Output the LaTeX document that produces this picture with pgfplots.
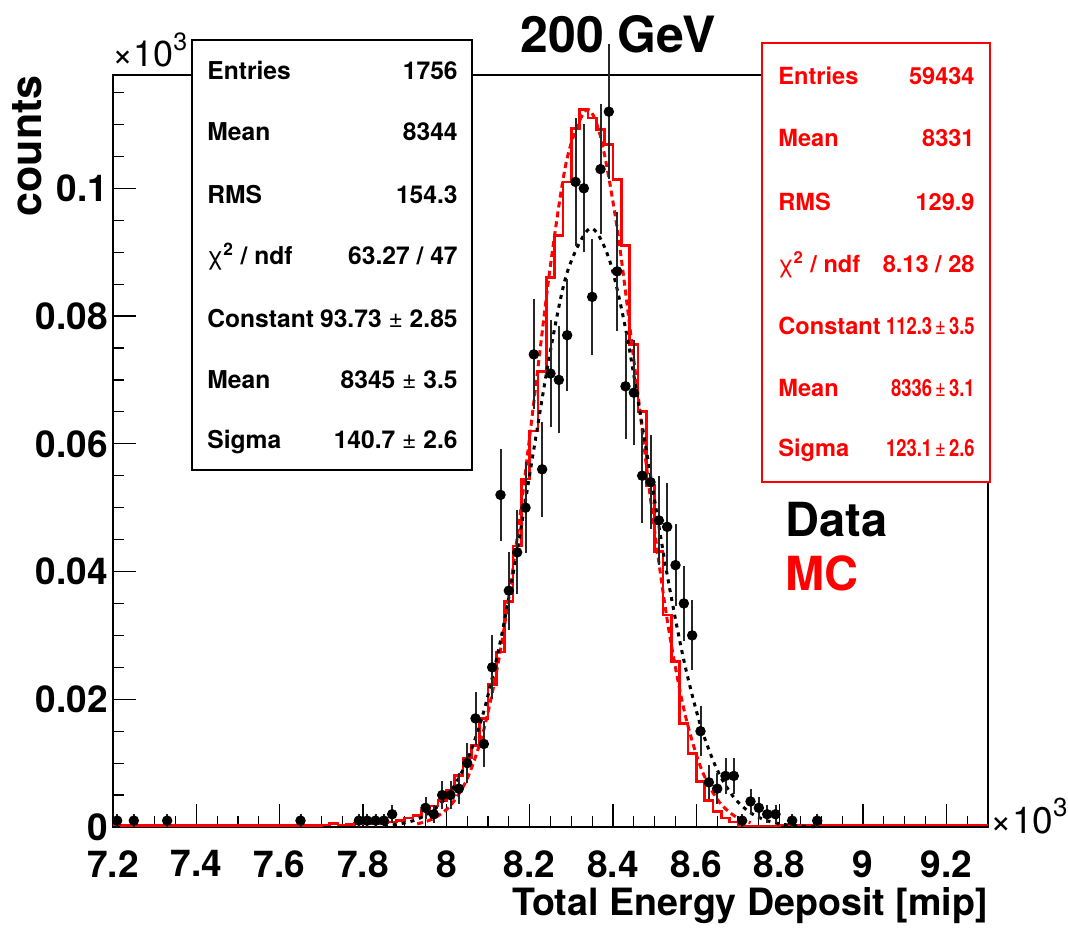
\documentclass[border=0pt]{standalone}
\usepackage{fontspec}
\setmainfont{TeX Gyre Heros}
\usepackage{pgfplots}
\pgfplotsset{compat=1.18}
\definecolor{rootred}{RGB}{255,0,0}
\newcommand{\cv}[1]{\scalebox{0.78}[1]{#1}}
\begin{document}
\begin{tikzpicture}[x=1pt,y=1pt]
\path[use as bounding box] (-56.5,-50.5) rectangle (477.5,413.5);
\begin{axis}[at={(0,0)}, anchor=south west, scale only axis,
  width=437.5pt, height=376pt,
  xmin=7.2, xmax=9.3, ymin=0, ymax=117.74,
  clip=false,
  axis line style={line width=1.4pt},
  tick pos=left, tick align=inside,
  major tick length=11.5pt, minor tick length=5.5pt,
  tick style={black, line width=0.6pt},
  xtick={7.2,7.4,7.6,7.8,8,8.2,8.4,8.6,8.8,9,9.2},
  xticklabels={7.2,7.4,7.6,7.8,8,8.2,8.4,8.6,8.8,9,9.2},
  minor xtick={7.25,7.3,7.35,7.45,7.5,7.55,7.65,7.7,7.75,7.85,7.9,7.95,8.05,8.1,8.15,8.25,8.3,8.35,8.45,8.5,8.55,8.65,8.7,8.75,8.85,8.9,8.95,9.05,9.1,9.15,9.25},
  ytick={0,20,40,60,80,100},
  yticklabels={0,0.02,0.04,0.06,0.08,0.1},
  minor ytick={5,10,15,25,30,35,45,50,55,65,70,75,85,90,95,105,110,115},
  /pgf/number format/assume math mode=true,
  xticklabel style={font=\fontsize{18.5}{18.5}\selectfont\bfseries, inner ysep=0pt, yshift=-11.5pt},
  yticklabel style={font=\fontsize{18.5}{18.5}\selectfont\bfseries, inner ysep=0pt, xshift=1pt},
]
% MC histogram (left bin edges, scaled counts)
\addplot[rootred, line width=1.4pt, const plot mark left] coordinates {
(7.20,0.3)(7.22,0.2)(7.24,0.2)(7.26,0.2)(7.28,0.2)(7.30,0.2)(7.32,0.2)(7.34,0.2)(7.36,0.2)(7.38,0.2)
(7.40,0.2)(7.42,0.2)(7.44,0.2)(7.46,0.2)(7.48,0.2)(7.50,0.2)(7.52,0.2)(7.54,0.2)(7.56,0.2)(7.58,0.2)
(7.60,0.2)(7.62,0.2)(7.64,0.2)(7.66,0.2)(7.68,0.2)(7.70,0.3)(7.72,0.5)(7.74,0.3)(7.76,0.4)(7.78,0.5)
(7.80,0.5)(7.82,0.6)(7.84,0.7)(7.86,0.8)(7.88,1.0)(7.90,1.4)(7.92,1.8)(7.94,2.6)(7.96,3.3)(7.98,4.2)
(8.00,5.8)(8.02,8.1)(8.04,10.8)(8.06,12.8)(8.08,17.0)(8.10,22.3)(8.12,27.4)(8.14,35.3)(8.16,44.0)(8.18,54.5)
(8.20,62.0)(8.22,71.3)(8.24,86.0)(8.26,92.6)(8.28,101.0)(8.30,109.4)(8.32,112.4)(8.34,111.0)(8.36,109.2)(8.38,106.8)
(8.40,101.4)(8.42,91.0)(8.44,75.5)(8.46,65.0)(8.48,53.5)(8.50,43.1)(8.52,33.2)(8.54,25.9)(8.56,16.2)(8.58,11.5)
(8.60,7.1)(8.62,4.2)(8.64,2.4)(8.66,1.4)(8.68,0.8)(8.70,0.15)(8.72,0.15)(8.74,0.15)(8.76,0.15)(8.78,0.15)
(8.80,0.3)(8.82,0.3)(8.84,0.3)(8.86,0.3)(8.88,0.3)(8.90,0.3)(8.92,0.3)(8.94,0.3)(8.96,0.3)(8.98,0.3)
(9.00,0.3)(9.02,0.3)(9.04,0.3)(9.06,0.3)(9.08,0.3)(9.10,0.3)(9.12,0.3)(9.14,0.3)(9.16,0.3)(9.18,0.3)
(9.20,0.3)(9.22,0.3)(9.24,0.3)(9.26,0.3)(9.28,0.3)(9.30,0.3)
};
% MC Gaussian fit (tabulated)
\addplot[rootred, line width=1.5pt, dash pattern=on 3pt off 2pt, smooth] coordinates {
(7.93,0.488)(7.97,1.352)(8.01,3.370)(8.05,7.556)(8.09,15.248)(8.13,27.688)(8.17,45.237)(8.21,66.510)
(8.25,87.981)(8.29,104.73)(8.336,112.3)(8.37,108.10)(8.41,93.737)(8.45,73.140)(8.49,51.348)(8.53,32.440)
(8.57,18.440)(8.61,9.435)(8.65,4.341)(8.69,1.798)(8.73,0.670)
};
% Data Gaussian fit (tabulated)
\addplot[black, line width=1.5pt, dash pattern=on 2pt off 2.5pt, smooth] coordinates {
(7.85,0.192)(7.89,0.503)(7.93,1.210)(7.97,2.688)(8.01,5.507)(8.05,10.406)(8.09,18.139)(8.13,29.161)
(8.17,43.244)(8.21,59.155)(8.25,74.628)(8.29,86.836)(8.345,93.73)(8.39,89.057)(8.43,78.096)(8.47,62.9)
(8.49,55.113)(8.53,39.489)(8.57,26.096)(8.61,15.905)(8.65,8.943)(8.69,4.637)(8.73,2.219)(8.77,0.979)
(8.81,0.398)(8.85,0.150)(8.89,0.052)
};
% Data points with sqrt(N) errors
\addplot[black, only marks, mark=*, mark size=2.4pt,
  error bars/.cd, y dir=both, y explicit, error mark=none,
  error bar style={black!85, line width=1pt}]
  table[x=x, y=y, y error=e] {
x y e
7.21 1 1
7.25 1 1
7.33 1 1
7.65 1 1
7.79 1 1
7.81 1 1
7.83 1 1
7.85 1 1
7.87 2 1.414
7.95 3 1.732
7.97 2 1.414
7.99 5 2.236
8.01 5 2.236
8.03 6 2.449
8.05 10 3.162
8.07 17 4.123
8.09 13 3.606
8.11 25 5
8.13 52 7.211
8.15 37 6.083
8.17 43 6.557
8.19 50 7.071
8.21 74 8.602
8.23 56 7.483
8.25 71 8.426
8.27 70 8.367
8.29 77 8.775
8.31 101 10.05
8.33 100 10
8.35 83 9.110
8.37 103 10.149
8.39 112 10.583
8.41 87 9.327
8.43 69 8.307
8.45 68 8.246
8.47 55 7.416
8.49 54 7.348
8.51 48 6.928
8.53 47 6.856
8.55 41 6.403
8.57 35 5.916
8.59 30 5.477
8.61 15 3.873
8.63 7 2.646
8.65 6 2.449
8.67 8 2.828
8.69 8 2.828
8.71 1 1
8.73 4 2
8.75 3 1.732
8.77 2 1.414
8.79 2 1.414
8.83 1 1
8.89 1 1
};
\end{axis}
% Titles and axis labels
\node[anchor=base, inner sep=0, font=\fontsize{25}{25}\selectfont\bfseries] at (252.5,387) {200 GeV};
\node[anchor=base west, inner sep=0, font=\fontsize{18}{18}\selectfont] at (-0.5,380) {×10\raisebox{0.45em}{\fontsize{12.5}{12.5}\selectfont 3}};
\node[anchor=base west, inner sep=0, font=\fontsize{18.5}{18.5}\selectfont] at (438.5,-3) {×10\raisebox{0.45em}{\fontsize{13}{13}\selectfont 3}};
\node[anchor=base east, inner sep=0, font=\fontsize{18.8}{18.8}\selectfont\bfseries] at (437.5,-44) {Total Energy Deposit [mip]};
\node[rotate=90, anchor=base east, inner sep=0, font=\fontsize{21.5}{21.5}\selectfont\bfseries] at (-35.5,376) {counts};
\node[anchor=base west, inner sep=0, font=\fontsize{23.5}{23.5}\selectfont\bfseries] at (336,145.5) {Data};
\node[anchor=base west, inner sep=0, font=\fontsize{23.5}{23.5}\selectfont\bfseries, text=rootred] at (336,118.5) {MC};
% Data stats box
\draw[line width=1.4pt, fill=white] (39.5,178.5) rectangle (179.5,393.5);
\begin{scope}[every node/.style={inner sep=0, font=\fontsize{12.3}{15}\selectfont\bfseries}]
\node[anchor=base west] at (47,373.5) {Entries};
\node[anchor=base east] at (172.5,373.5) {1756};
\node[anchor=base west] at (47,343) {Mean};
\node[anchor=base east] at (172.5,343) {8344};
\node[anchor=base west] at (47,312) {RMS};
\node[anchor=base east] at (172.5,312) {154.3};
\node[anchor=base west] at (47,281.5) {{\mdseries χ}\textsuperscript{2} / ndf};
\node[anchor=base east] at (172.5,281.5) {63.27 / 47};
\node[anchor=base west] at (47,250) {Constant};
\node[anchor=base east] at (172.5,250) {93.73 {\mdseries ±} 2.85};
\node[anchor=base west] at (47,219.5) {Mean};
\node[anchor=base east] at (172.5,219.5) {8345 {\mdseries ±} 3.5};
\node[anchor=base west] at (47,189.5) {Sigma};
\node[anchor=base east] at (172.5,189.5) {140.7 {\mdseries ±} 2.6};
\end{scope}
% MC stats box
\draw[rootred, line width=1.4pt, fill=white] (324.5,172.5) rectangle (438.5,392);
\begin{scope}[every node/.style={inner sep=0, text=rootred, font=\fontsize{11.8}{15}\selectfont\bfseries}]
\node[anchor=base west] at (332.5,371) {Entries};
\node[anchor=base east] at (431,371) {59434};
\node[anchor=base west] at (332.5,340) {Mean};
\node[anchor=base east] at (431,340) {8331};
\node[anchor=base west] at (332.5,308.5) {RMS};
\node[anchor=base east] at (431,308.5) {129.9};
\node[anchor=base west] at (332.5,277.5) {{\mdseries χ}\textsuperscript{2} / ndf};
\node[anchor=base east] at (431,277.5) {8.13 / 28};
\node[anchor=base west] at (332.5,246.5) {Constant};
\node[anchor=base east] at (431,246.5) {\cv{112.3\,{\mdseries ±}\,3.5}};
\node[anchor=base west] at (332.5,215.5) {Mean};
\node[anchor=base east] at (431,215.5) {\cv{8336\,{\mdseries ±}\,3.1}};
\node[anchor=base west] at (332.5,185.5) {Sigma};
\node[anchor=base east] at (431,185.5) {\cv{123.1\,{\mdseries ±}\,2.6}};
\end{scope}
\end{tikzpicture}
\end{document}
